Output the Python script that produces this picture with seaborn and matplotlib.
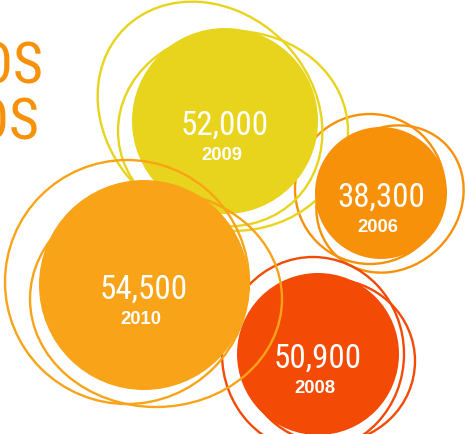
import matplotlib
matplotlib.use("Agg")
import matplotlib.pyplot as plt
from matplotlib.patches import Ellipse
from matplotlib import font_manager as fm
import seaborn as sns
import pandas as pd

# ---- data ----
years = ["2009", "2006", "2008", "2010"]
values = [52000, 38300, 50900, 54500]
colors = ["#E9D41D", "#F7910A", "#F34A05", "#F8A318"]
title_lines = ["DOS", "DOS"]
title_color = "#F7910A"

# ---- layout (pixel space) ----
bx = [225, 381, 318, 144]
by = [122, 194, 355, 286]
br = [93, 66, 81, 105]
# sketch rings per bubble: (cx, cy, width, height, angle)
rings = [
    [(210, 115, 242, 206, 45), (233, 132, 230, 200, 0)],
    [(370, 190, 150, 150, 0), (390, 200, 156, 138, -45)],
    [(313, 355, 182, 194, 0), (330, 362, 170, 164, 0)],
    [(127, 283, 244, 244, 0), (156, 300, 252, 216, 0)],
]
ring_z = [1, 0.5, 5, 7]
fill_z = [2, 4, 6, 8]

sns.set_theme(style="white")
names = {f.name for f in fm.fontManager.ttflist}
cond = None
for cand in ["Liberation Sans Narrow", "DejaVu Sans Condensed", "Roboto Condensed", "Open Sans Condensed"]:
    if cand in names:
        cond = cand
        break
if cond is None:
    cond = "Liberation Sans"
bold_family = "Liberation Sans" if "Liberation Sans" in names else "DejaVu Sans"

W, H, DPI = 466, 435, 100
fig = plt.figure(figsize=(W / DPI, H / DPI), dpi=DPI)
ax = fig.add_axes([0, 0, 1, 1])
ax.set_xlim(0, W)
ax.set_ylim(H, 0)
ax.axis("off")

df = pd.DataFrame({"year": years, "value": values, "x": bx, "y": by, "r": br, "color": colors})
px2pt = 72 / DPI

for i, row in df.iterrows():
    for (cx, cy, w, h, ang) in rings[i]:
        ax.add_patch(Ellipse((cx, cy), w, h, angle=ang, fill=False,
                             edgecolor=row["color"], linewidth=1.7, zorder=ring_z[i]))
    s = (2 * row["r"] * px2pt) ** 2
    sns.scatterplot(x=[row["x"]], y=[row["y"]], s=s, color=row["color"],
                    linewidth=0, edgecolor="none", ax=ax, zorder=fill_z[i], legend=False)
    ax.text(row["x"], row["y"] + 13, f"{row['value']:,}", ha="center", va="baseline",
            color="white", fontsize=33 * px2pt, family=cond, zorder=20)
    ax.text(row["x"] - 3, row["y"] + 38, row["year"], ha="center", va="baseline",
            color="white", fontsize=18.5 * px2pt, family=bold_family, fontweight="bold", zorder=20)

ax.text(43, 83, title_lines[0], ha="right", va="baseline", color=title_color,
        fontsize=58 * px2pt, family=cond, zorder=20)
ax.text(40, 140, title_lines[1], ha="right", va="baseline", color=title_color,
        fontsize=58 * px2pt, family=cond, zorder=20)

fig.savefig("out.png", dpi=DPI, facecolor="white")
